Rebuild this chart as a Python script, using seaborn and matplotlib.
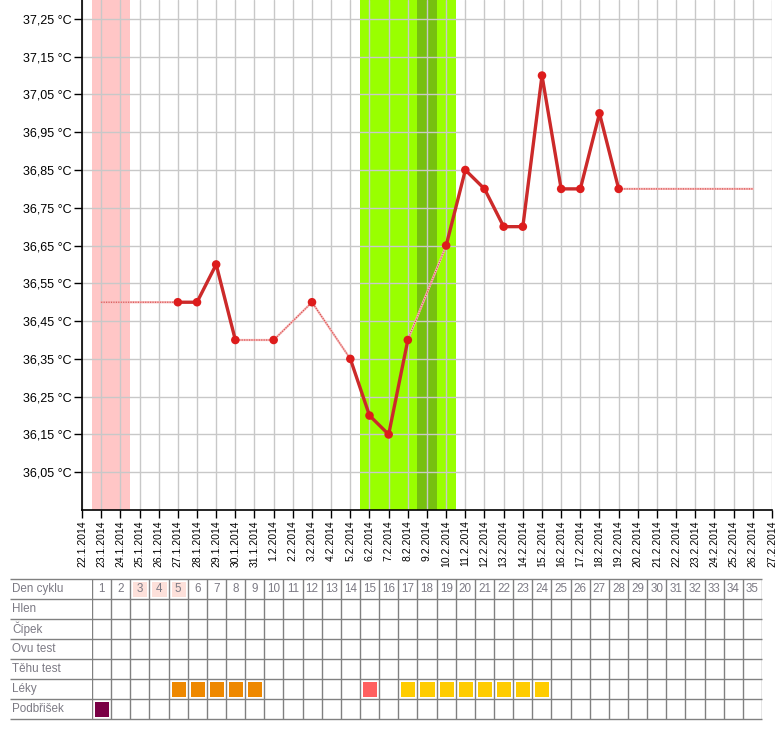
import numpy as np
import pandas as pd
import matplotlib
matplotlib.use("Agg")
import matplotlib.pyplot as plt
from matplotlib.colors import ListedColormap
import seaborn as sns

# Data
date_labels = ['22.1.2014', '23.1.2014', '24.1.2014', '25.1.2014', '26.1.2014', '27.1.2014',
               '28.1.2014', '29.1.2014', '30.1.2014', '31.1.2014', '1.2.2014', '2.2.2014',
               '3.2.2014', '4.2.2014', '5.2.2014', '6.2.2014', '7.2.2014', '8.2.2014',
               '9.2.2014', '10.2.2014', '11.2.2014', '12.2.2014', '13.2.2014', '14.2.2014',
               '15.2.2014', '16.2.2014', '17.2.2014', '18.2.2014', '19.2.2014', '20.2.2014',
               '21.2.2014', '22.2.2014', '23.2.2014', '24.2.2014', '25.2.2014', '26.2.2014',
               '27.2.2014']
measure_days = [5, 6, 7, 8, 10, 12, 14, 15, 16, 17, 19, 20, 21, 22, 23, 24, 25, 26, 27, 28]
temps = [36.50, 36.50, 36.60, 36.40, 36.40, 36.50, 36.35, 36.20, 36.15, 36.40,
         36.65, 36.85, 36.80, 36.70, 36.70, 37.10, 36.80, 36.80, 37.00, 36.80]
first_day, first_temp = 1, 36.50
last_day, last_temp = 35, 36.80
y_ticks = [36.05, 36.15, 36.25, 36.35, 36.45, 36.55, 36.65, 36.75, 36.85, 36.95, 37.05, 37.15, 37.25]

period_days = [1, 2]
fertile_days = [15, 16, 17, 18, 19]
ovulation_day = 18

cycle_days = list(range(1, 36))
row_labels = ['Den cyklu', 'Hlen', 'Čípek', 'Ovu test', 'Těhu test', 'Léky', 'Podbřišek']
header_pink_days = [3, 4, 5]
leky_orange = [5, 6, 7, 8, 9]
leky_red = [15]
leky_yellow = [17, 18, 19, 20, 21, 22, 23, 24]
podbrisek_days = [1]

# Styl
sns.set_theme(style="white")
plt.rcParams['font.family'] = ['Liberation Sans', 'DejaVu Sans']

fig = plt.figure(figsize=(7.8, 7.4), dpi=100)
ax = fig.add_axes([82 / 780, 1 - 510 / 740, 690 / 780, 510 / 740])

# Pasma (menstruace, plodne dny, ovulace)
ax.axvspan(min(period_days) - 0.5, max(period_days) + 0.5, color='#ffc6c6', zorder=0.1, lw=0)
ax.axvspan(min(fertile_days) - 0.5, max(fertile_days) + 0.5, color='#99ff00', zorder=0.1, lw=0)
ax.axvspan(ovulation_day - 0.5, ovulation_day + 0.5, color='#77c010', zorder=0.15, lw=0)

df = pd.DataFrame({'day': measure_days, 'temp': temps})
df['run'] = (df['day'].diff() != 1).cumsum()

# Tenka teckovana linka pres vsechna mereni
trend = pd.DataFrame({'day': [first_day] + measure_days + [last_day],
                      'temp': [first_temp] + temps + [last_temp]})
sns.lineplot(data=trend, x='day', y='temp', ax=ax, color='#f5b8b8', lw=1.6,
             estimator=None, sort=False, zorder=2)
sns.lineplot(data=trend, x='day', y='temp', ax=ax, color='#d84848', lw=0.8,
             linestyle=(0, (1, 1.2)), estimator=None, sort=False, zorder=2.1)

# Silna linka pro po sobe jdouci dny
sns.lineplot(data=df, x='day', y='temp', units='run', estimator=None, ax=ax,
             color='#cc2a2a', lw=2.4, sort=False, zorder=3)
sns.scatterplot(data=df, x='day', y='temp', ax=ax, color='#dd1c1c', s=38,
                edgecolor='none', zorder=4)

ax.set_xlim(0, 36)
ax.set_ylim(35.95, 37.30)
ax.set_xticks(range(len(date_labels)))
ax.set_xticklabels(date_labels, rotation=90, fontsize=7.5)
ax.set_yticks(y_ticks)
ax.set_yticklabels([f"{v:.2f}".replace('.', ',') + ' °C' for v in y_ticks], fontsize=9)
ax.set_xlabel('')
ax.set_ylabel('')
ax.set_axisbelow(True)
ax.grid(True, color='#c8c8c8', lw=1.0)
ax.tick_params(axis='both', direction='out', length=5.5, width=1, color='black',
               pad=2, bottom=True, left=True, labelcolor='black')
for s in ['top', 'right']:
    ax.spines[s].set_visible(False)
for s in ['left', 'bottom']:
    ax.spines[s].set_color('black')
    ax.spines[s].set_linewidth(1.2)

# Tabulka pod grafem
codes = np.zeros((len(row_labels), len(cycle_days)))
for d in header_pink_days:
    codes[0, d - 1] = 5
for d in leky_orange:
    codes[5, d - 1] = 1
for d in leky_red:
    codes[5, d - 1] = 2
for d in leky_yellow:
    codes[5, d - 1] = 3
for d in podbrisek_days:
    codes[6, d - 1] = 4
annot = np.full(codes.shape, '', dtype=object)
annot[0, :] = [str(d) for d in cycle_days]

cmap = ListedColormap(['#ffffff', '#ee8800', '#ff5f5f', '#ffcc00', '#7a0045', '#fde0da'])
tax = fig.add_axes([92 / 780, 21 / 740, 670 / 780, 140 / 740])
sns.heatmap(codes, cmap=cmap, vmin=-0.5, vmax=5.5, cbar=False, linewidths=2.2,
            linecolor='white', annot=annot, fmt='', ax=tax,
            annot_kws={'color': '#7c7a84', 'fontsize': 8.4},
            xticklabels=False, yticklabels=False)
ncol = len(cycle_days)
nrow = len(row_labels)
tax.vlines(range(0, ncol + 1), 0, nrow, color='#808080', lw=1.0)
tax.hlines(range(0, nrow + 1), -82 / 19.14, ncol, color='#808080', lw=1.0, clip_on=False)
for i, lab in enumerate(row_labels):
    tax.text(-80 / 19.14, i + 0.5, lab, ha='left', va='center', fontsize=8.4,
             color='#7c7a84', clip_on=False)
tax.set_xlim(0, ncol)
tax.set_ylim(nrow, 0)
tax.axis('off')

fig.savefig('out.png', dpi=100)
plt.close(fig)
